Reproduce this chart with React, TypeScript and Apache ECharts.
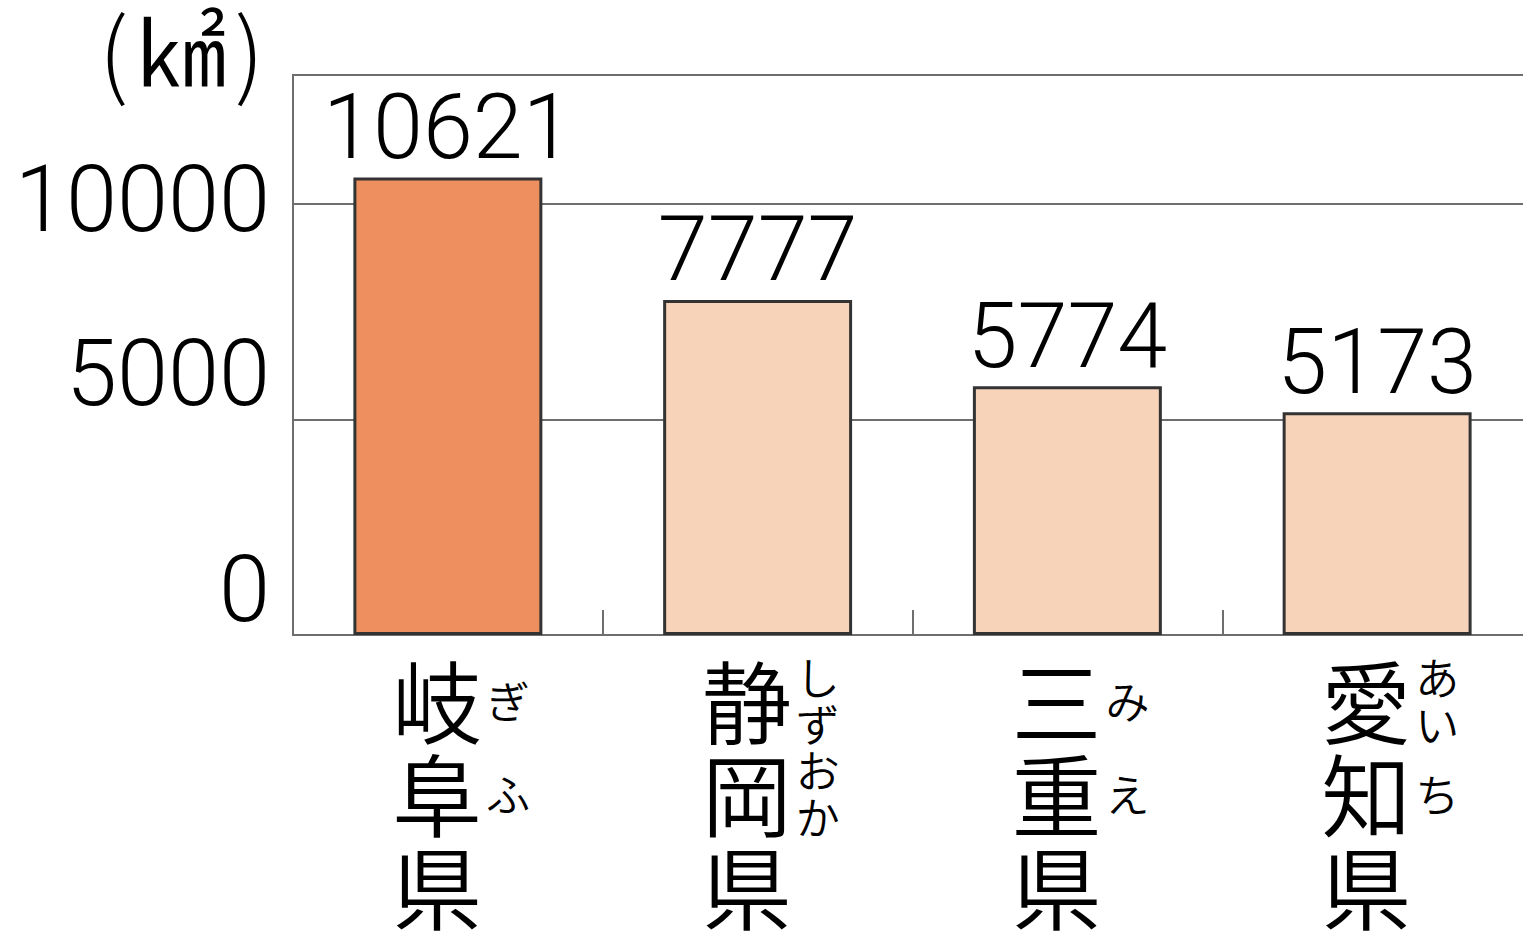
import React, { useEffect, useRef } from "react";
import * as echarts from "echarts";

// ---- data ----
const categories: string[] = ["岐阜県", "静岡県", "三重県", "愛知県"];
const furigana: string[][] = [
  ["ぎ", "ふ"],
  ["しず", "おか"],
  ["み", "え"],
  ["あい", "ち"],
];
const areas: number[] = [10621, 7777, 5774, 5173];
const highlightIndex = 0;
const unitLabel = "{p|(}{u|㎢}{p|)}";
const yMin = 0;
const yMax = 13000;
const yInterval = 5000;

const NUM_FONT = "Roboto, 'Liberation Sans', Arial, sans-serif";
const NUM_WEIGHT = 300;
const JP_FONT = "'Noto Sans CJK JP', 'Noto Sans CJK SC', sans-serif";
const JP_WEIGHT = 350;
const AXIS_GRAY = "#6e6e6e";

function furiganaText(idx: number): string {
  const groups = furigana[idx] || [];
  const lines: string[] = [];
  groups.forEach((g) => {
    if (g.length <= 1) {
      lines.push(`{r|${g}}`);
    } else {
      g.split("").forEach((ch) => lines.push(`{h|${ch}}`));
    }
  });
  return lines.join("\n");
}

export default function App() {
  const ref = useRef<HTMLDivElement>(null);

  useEffect(() => {
    if (!ref.current) return;
    const chart = echarts.init(ref.current, undefined, { renderer: "svg" });
    chart.setOption({
      animation: false,
      backgroundColor: "#ffffff",
      grid: {
        left: 293,
        top: 75,
        width: 1239,
        bottom: 297,
        show: true,
        borderColor: AXIS_GRAY,
        borderWidth: 2,
        containLabel: false,
        outerBoundsMode: "none",
      },
      xAxis: [
        {
          type: "category",
          data: categories,
          position: "bottom",
          axisLine: { show: true, lineStyle: { color: AXIS_GRAY, width: 2 } },
          axisTick: {
            show: true,
            inside: true,
            length: 25,
            lineStyle: { color: AXIS_GRAY, width: 2 },
          },
          axisLabel: {
            interval: 0,
            margin: 16,
            color: "#000",
            fontSize: 90,
            fontWeight: JP_WEIGHT,
            lineHeight: 93,
            fontFamily: JP_FONT,
            align: "center",
            padding: [0, 22, 0, 0],
            formatter: (v: string) => v.split("").join("\n"),
          },
        },
        {
          type: "category",
          data: categories,
          position: "bottom",
          axisLine: { show: false },
          axisTick: { show: false },
          splitLine: { show: false },
          axisLabel: {
            interval: 0,
            margin: 18,
            color: "#000",
            align: "left",
            padding: [0, 0, 0, 38],
            formatter: (_v: string, idx: number) => furiganaText(idx),
            rich: {
              r: { fontSize: 44, fontWeight: JP_WEIGHT, lineHeight: 93, fontFamily: JP_FONT, color: "#000" },
              h: { fontSize: 44, fontWeight: JP_WEIGHT, lineHeight: 46.5, fontFamily: JP_FONT, color: "#000" },
            },
          },
        },
      ],
      yAxis: {
        type: "value",
        min: yMin,
        max: yMax,
        interval: yInterval,
        name: unitLabel,
        nameLocation: "end",
        nameGap: 28,
        nameTextStyle: {
          fontFamily: JP_FONT,
          fontSize: 88,
          color: "#000",
          align: "right",
          verticalAlign: "middle",
          padding: [0, 21, 0, 0],
          rich: {
            p: {
              fontFamily: JP_FONT,
              fontSize: 94,
              lineHeight: 86,
              fontWeight: 300,
              color: "#000",
              padding: [0, 8, 0, 8],
            },
            u: { fontFamily: JP_FONT, fontSize: 90, lineHeight: 86, fontWeight: JP_WEIGHT, color: "#000" },
          },
        },
        axisLine: { show: true, lineStyle: { color: AXIS_GRAY, width: 2 } },
        axisTick: { show: false },
        splitLine: { show: true, lineStyle: { color: AXIS_GRAY, width: 2 } },
        axisLabel: {
          margin: 23,
          showMaxLabel: false,
          color: "#000",
          fontSize: 92,
          fontWeight: NUM_WEIGHT,
          fontFamily: NUM_FONT,
          formatter: (v: number) =>
            v % yInterval !== 0 ? "" : v === 10000 ? `{b|${v}}` : `{a|${v}}`,
          rich: {
            a: { fontSize: 92, fontWeight: NUM_WEIGHT, fontFamily: NUM_FONT, color: "#000", padding: [0, 0, 92, 0] },
            b: { fontSize: 92, fontWeight: NUM_WEIGHT, fontFamily: NUM_FONT, color: "#000", padding: [0, 0, 10, 0] },
          },
        },
      },
      series: [
        {
          type: "bar",
          xAxisIndex: 0,
          data: areas.map((v, i) => ({
            value: v,
            itemStyle: { color: i === highlightIndex ? "#EE8F60" : "#F7D3BA" },
          })),
          barWidth: "61%",
          itemStyle: { borderColor: "#333333", borderWidth: 3 },
          label: {
            show: true,
            position: "top",
            distance: 5,
            color: "#000",
            fontSize: 90,
            fontWeight: NUM_WEIGHT,
            fontFamily: NUM_FONT,
          },
        },
      ],
    });
    return () => chart.dispose();
  }, []);

  return (
    <div
      ref={ref}
      style={{ position: "fixed", left: 0, top: 0, width: 1523, height: 932, background: "#fff" }}
    />
  );
}
